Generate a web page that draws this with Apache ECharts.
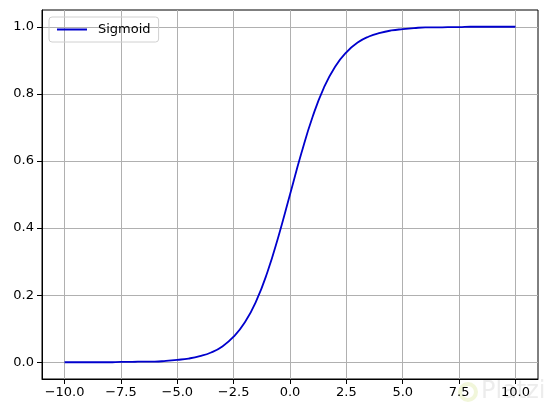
<!DOCTYPE html>
<html>
<head>
<meta charset="utf-8">
<script src="https://cdn.jsdelivr.net/npm/echarts@6/dist/echarts.min.js"></script>
<style>
  html, body { margin: 0; padding: 0; background: #fff; }
  #chart { width: 547px; height: 413px; }
</style>
</head>
<body>
<div id="chart"></div>
<script>
// values
const xValues = [-10, -9.5, -9, -8.5, -8, -7.5, -7, -6.5, -6, -5.5, -5, -4.5, -4, -3.5, -3, -2.5, -2, -1.5, -1, -0.5,
  0, 0.5, 1, 1.5, 2, 2.5, 3, 3.5, 4, 4.5, 5, 5.5, 6, 6.5, 7, 7.5, 8, 8.5, 9, 9.5, 10]
const sigmoidValues = [0.000, 0.000, 0.000, 0.000, 0.000, 0.001, 0.001, 0.002, 0.002, 0.004, 0.007, 0.011, 0.018, 0.029, 0.047, 0.076, 0.119, 0.182, 0.269, 0.378,
  0.500, 0.622, 0.731, 0.818, 0.881, 0.924, 0.953, 0.971, 0.982, 0.989, 0.993, 0.996, 0.998, 0.998, 0.999, 0.999, 1.000, 1.000, 1.000, 1.000, 1.000]
const xTicks = [-10, -7.5, -5, -2.5, 0, 2.5, 5, 7.5, 10]
const yTicks = [0, 0.2, 0.4, 0.6, 0.8, 1.0]

const fmt = v => v.toFixed(1).replace('-', '\u2212')
const font = 'DejaVu Sans'

const chart = echarts.init(document.getElementById('chart'))

const axisCommon = {
  axisLine: { onZero: false, lineStyle: { color: '#000', width: 1 } },
  axisTick: { show: true, length: 5, lineStyle: { color: '#000' } },
  axisLabel: { color: '#000', fontFamily: font, fontSize: 13, formatter: fmt },
  splitLine: { show: true, lineStyle: { color: '#b0b0b0', width: 1 } }
}

chart.setOption({
  animation: false,
  grid: { left: 42, right: 9, top: 10, bottom: 34, containLabel: false, show: true, borderColor: '#000', borderWidth: 1 },
  legend: {
    left: 49, top: 17,
    padding: [6, 8, 6, 8],
    borderColor: '#d0d0d0', borderWidth: 1, borderRadius: 3,
    icon: 'rect', itemWidth: 30, itemHeight: 2, itemGap: 8,
    textStyle: { fontFamily: font, fontSize: 13, color: '#000', padding: [0, 0, 0, 6] },
    data: ['Sigmoid']
  },
  xAxis: {
    type: 'value', min: -11, max: 11,
    ...axisCommon,
    axisTick: { ...axisCommon.axisTick, customValues: xTicks },
    axisLabel: { ...axisCommon.axisLabel, customValues: xTicks, margin: 7 }
  },
  yAxis: {
    type: 'value', min: -0.05, max: 1.05,
    ...axisCommon,
    axisTick: { ...axisCommon.axisTick, customValues: yTicks },
    axisLabel: { ...axisCommon.axisLabel, customValues: yTicks, margin: 8 }
  },
  series: [{
    name: 'Sigmoid',
    type: 'line',
    smooth: 0.5,
    symbol: 'none',
    data: xValues.map((x, i) => [x, sigmoidValues[i]]),
    lineStyle: { color: '#0000cd', width: 1.8 },
    itemStyle: { color: '#0000cd' }
  }],
  graphic: [{
    type: 'circle', shape: { cx: 468, cy: 392, r: 8 },
    style: { fill: 'none', stroke: 'rgba(215,230,150,0.35)', lineWidth: 4 }
  }, {
    type: 'text', left: 481, top: 380,
    style: { text: 'Platzi', fontFamily: font, fontSize: 24, fill: 'rgba(200,200,200,0.35)' }
  }]
})
</script>
</body>
</html>
